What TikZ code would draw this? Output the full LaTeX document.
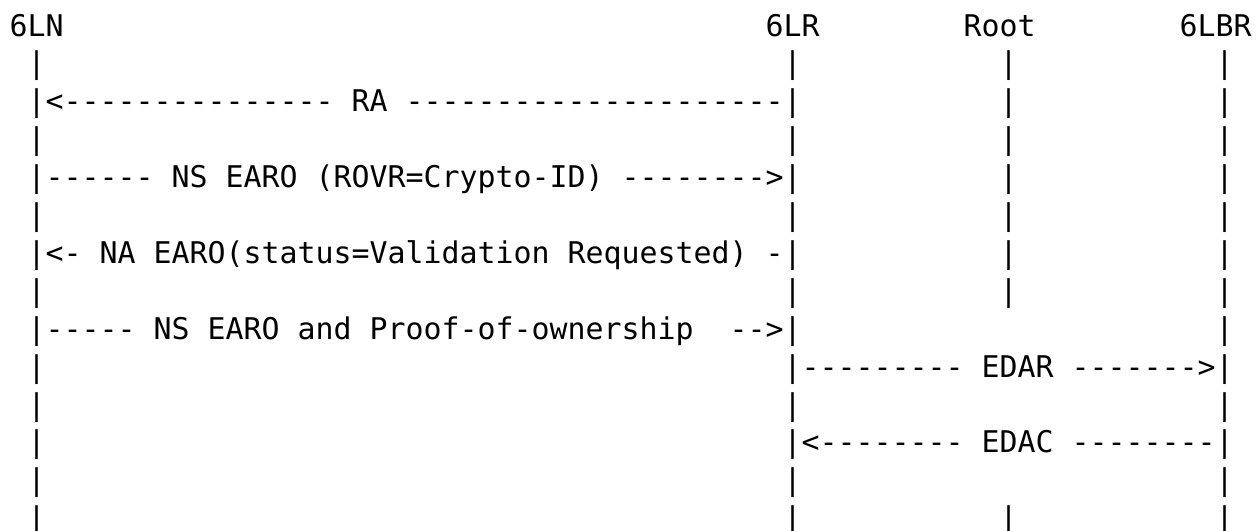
\documentclass[tikz,border=0pt]{standalone}
\usepackage{fontspec}
\setmonofont{DejaVu Sans Mono}
\begin{document}
\begin{tikzpicture}[x=9pt,y=-18.95pt,
  txt/.style={anchor=base west,inner sep=0pt,outer sep=0pt,text=black,
    font=\ttfamily\fontsize{14.95pt}{18pt}\selectfont}]
\fill[white] (-4.85pt,18pt) rectangle (623.15pt,-247pt);
\useasboundingbox (-4.85pt,18pt) rectangle (623.15pt,-247pt);
% headers
\node[txt] (h6ln)  at (0,0)  {6LN};
\node[txt] (h6lr)  at (42,0) {6LR};
\node[txt] (hroot) at (53,0) {Root};
\node[txt] (h6lbr) at (65,0) {6LBR};
% lifeline pieces
\foreach \r in {1,3,5,7,9,10,11,12,13} \node[txt] (lnA\r) at (1,\r) {|};
\foreach \r in {1,3,5,7,10,12,13} \node[txt] (lrA\r) at (43,\r) {|};
\foreach \r in {1,2,3,4,5,6,7,13} \node[txt] (rtA\r) at (55,\r) {|};
\foreach \r in {1,2,3,4,5,6,7,8,10,12,13} \node[txt] (brA\r) at (67,\r) {|};
% messages
\node[txt] (ra)   at (1,2) {|<--------------- RA ---------------------|};
\node[txt] (ns1)  at (1,4) {|------ NS EARO (ROVR=Crypto-ID) -------->|};
\node[txt] (na)   at (1,6) {|<- NA EARO(status=Validation Requested) -|};
\node[txt] (ns2)  at (1,8) {|----- NS EARO and Proof-of-ownership};
\node[txt] (ns2b) at (40,8) {-->|};
\node[txt] (edar) at (43,9) {|--------- EDAR ------->|};
\node[txt] (edac) at (43,11) {|<-------- EDAC --------|};
\end{tikzpicture}
\end{document}
